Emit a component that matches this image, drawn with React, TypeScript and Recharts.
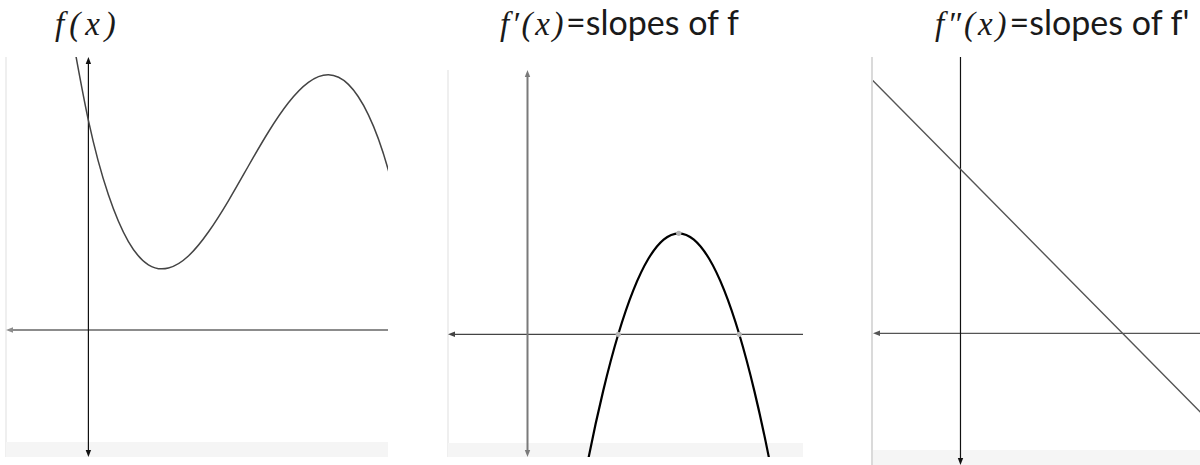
import React from 'react';
import {
  LineChart,
  ComposedChart,
  Line,
  XAxis,
  YAxis,
  ReferenceLine,
  ReferenceArea,
  ReferenceDot,
} from 'recharts';

// f(x) (grid units, y-axis at x = 0)
const fX = [-0.5, 0, 0.5, 1, 1.5, 2, 2.5, 3, 3.5, 4, 4.5, 5, 5.5, 6, 6.5, 7, 7.5, 8];
const fY = [7.9, 5.24, 3.38, 2.21, 1.63, 1.55, 1.85, 2.45, 3.23, 4.1, 4.95, 5.68, 6.19, 6.38, 6.14, 5.38, 3.99, 1.87];

// f'(x): the parabola in the middle panel
const dfX = [1.5, 2, 2.5, 3, 3.5, 4, 4.5, 5, 5.5, 6, 6.5, 7, 7.5, 8, 8.5];
const dfY = [-8.25, -5, -2.25, 0, 1.75, 3, 3.75, 4, 3.75, 3, 1.75, 0, -2.25, -5, -8.25];

// roots and top of f' are marked with grey dots
const dfMarkX = [3, 5, 7];
const dfMarkY = [0, 4, 0];

// f''(x): straight line on the right
const ddX = [-3, 0, 5, 8];
const ddY = [16, 10, 0, -6];

const toPoints = (xs: number[], ys: number[]) => xs.map((x, i) => ({ x, y: ys[i] }));

type Heads = { left?: boolean; right?: boolean; top?: boolean; bottom?: boolean };

const HEAD_LEN = 7;
const HEAD_HALF = 2.7;

function arrowAxis(heads: Heads, color: string, width: number) {
  return (props: any) => {
    const { x1, y1, x2, y2 } = props;
    const left = Math.min(x1, x2);
    const right = Math.max(x1, x2);
    const top = Math.min(y1, y2);
    const bottom = Math.max(y1, y2);
    const tips: string[] = [];
    let lx1 = left, lx2 = right, ly1 = top, ly2 = bottom;
    if (heads.left) {
      tips.push(`${left},${top} ${left + HEAD_LEN},${top - HEAD_HALF} ${left + HEAD_LEN},${top + HEAD_HALF}`);
      lx1 = left + HEAD_LEN - 1;
    }
    if (heads.right) {
      tips.push(`${right},${top} ${right - HEAD_LEN},${top - HEAD_HALF} ${right - HEAD_LEN},${top + HEAD_HALF}`);
      lx2 = right - HEAD_LEN + 1;
    }
    if (heads.top) {
      tips.push(`${left},${top} ${left - HEAD_HALF},${top + HEAD_LEN} ${left + HEAD_HALF},${top + HEAD_LEN}`);
      ly1 = top + HEAD_LEN - 1;
    }
    if (heads.bottom) {
      tips.push(`${left},${bottom} ${left - HEAD_HALF},${bottom - HEAD_LEN} ${left + HEAD_HALF},${bottom - HEAD_LEN}`);
      ly2 = bottom - HEAD_LEN + 1;
    }
    return (
      <g>
        <line x1={lx1} y1={ly1} x2={lx2} y2={ly2} stroke={color} strokeWidth={width} />
        {tips.map((pts, i) => (
          <polygon key={i} points={pts} fill={color} />
        ))}
      </g>
    );
  };
}

const SHADE = '#f5f5f5';
const MATH_FONT = '"Liberation Serif", "DejaVu Serif", serif';
const TEXT_FONT = 'Lato, "Open Sans", sans-serif';

function Titles() {
  return (
    <svg width={1200} height={465} style={{ position: 'absolute', left: 0, top: 0 }}>
      <text x={55} y={35} fill="#1a1a1a">
        <tspan fontFamily={MATH_FONT} fontStyle="italic" fontSize={33} letterSpacing={5}>
          f(x)
        </tspan>
      </text>
      <text x={500} y={35} fill="#1a1a1a">
        <tspan fontFamily={MATH_FONT} fontStyle="italic" fontSize={33} letterSpacing={2.6}>
          f′(x)
        </tspan>
        <tspan fontFamily={TEXT_FONT} fontSize={34}>
          =slopes of f
        </tspan>
      </text>
      <text x={935} y={35} fill="#1a1a1a">
        <tspan fontFamily={MATH_FONT} fontStyle="italic" fontSize={33} letterSpacing={3}>
          f″(x)
        </tspan>
        <tspan fontFamily={TEXT_FONT} fontSize={34}>
          =slopes of f'
        </tspan>
      </text>
    </svg>
  );
}

export default function App() {
  const fData = toPoints(fX, fY);
  const dfData = toPoints(dfX, dfY);
  const ddData = toPoints(ddX, ddY);

  return (
    <div
      style={{
        position: 'fixed',
        left: 0,
        top: 0,
        width: 1200,
        height: 465,
        background: '#fff',
        overflow: 'hidden',
      }}
    >
      <Titles />

      {/* f(x) */}
      <div style={{ position: 'absolute', left: 5, top: 57, width: 1.5, height: 400, background: '#efefef' }} />
      <div style={{ position: 'absolute', left: 6, top: 57 }}>
        <LineChart width={382} height={400} data={fData} margin={{ top: 0, right: 0, bottom: 0, left: 0 }}>
          <XAxis dataKey="x" type="number" domain={[-2.06, 7.49]} allowDataOverflow hide />
          <YAxis type="number" domain={[-3.175, 6.825]} allowDataOverflow hide />
          <ReferenceArea y1={-3.175} y2={-2.8} fill={SHADE} fillOpacity={1} stroke="none" />
          <ReferenceLine y={0} shape={arrowAxis({ left: true }, '#8c8c8c', 2)} />
          <ReferenceLine x={0} shape={arrowAxis({ top: true, bottom: true }, '#111', 1.2)} />
          <Line
            dataKey="y"
            type="natural"
            stroke="#444"
            strokeWidth={1.5}
            dot={false}
            activeDot={false}
            isAnimationActive={false}
          />
        </LineChart>
      </div>

      {/* f'(x) */}
      <div style={{ position: 'absolute', left: 447, top: 70, width: 1.5, height: 387, background: '#efefef' }} />
      <div style={{ position: 'absolute', left: 448, top: 70 }}>
        <ComposedChart width={355} height={387} data={dfData} margin={{ top: 0, right: 0, bottom: 0, left: 0 }}>
          <XAxis dataKey="x" type="number" domain={[-2.628, 9.107]} allowDataOverflow hide />
          <YAxis type="number" domain={[-4.859, 10.467]} allowDataOverflow hide />
          <ReferenceArea y1={-4.859} y2={-4.305} fill={SHADE} fillOpacity={1} stroke="none" />
          <ReferenceLine y={0} shape={arrowAxis({ left: true }, '#444', 1.2)} />
          <ReferenceLine x={0} shape={arrowAxis({ top: true, bottom: true }, '#7a7a7a', 2)} />
          <Line
            dataKey="y"
            type="natural"
            stroke="#000"
            strokeWidth={2.2}
            dot={false}
            activeDot={false}
            isAnimationActive={false}
          />
          {dfMarkX.map((x, i) => (
            <ReferenceDot key={i} x={x} y={dfMarkY[i]} r={2.6} fill="#b4b4b4" stroke="none" />
          ))}
        </ComposedChart>
      </div>

      {/* f''(x) */}
      <div style={{ position: 'absolute', left: 871, top: 57, width: 2, height: 408, background: '#dadada' }} />
      <div style={{ position: 'absolute', left: 873, top: 57 }}>
        <LineChart width={327} height={408} data={ddData} margin={{ top: 0, right: 0, bottom: 0, left: 0 }}>
          <XAxis dataKey="x" type="number" domain={[-2.7, 7.392]} allowDataOverflow hide />
          <YAxis type="number" domain={[-8.03, 16.85]} allowDataOverflow hide />
          <ReferenceArea y1={-8.03} y2={-7.116} fill={SHADE} fillOpacity={1} stroke="none" />
          <ReferenceLine y={0} shape={arrowAxis({ left: true }, '#555', 1.2)} />
          <ReferenceLine x={0} shape={arrowAxis({ bottom: true }, '#111', 1.2)} />
          <Line
            dataKey="y"
            type="linear"
            stroke="#555"
            strokeWidth={1.4}
            dot={false}
            activeDot={false}
            isAnimationActive={false}
          />
        </LineChart>
      </div>
    </div>
  );
}
